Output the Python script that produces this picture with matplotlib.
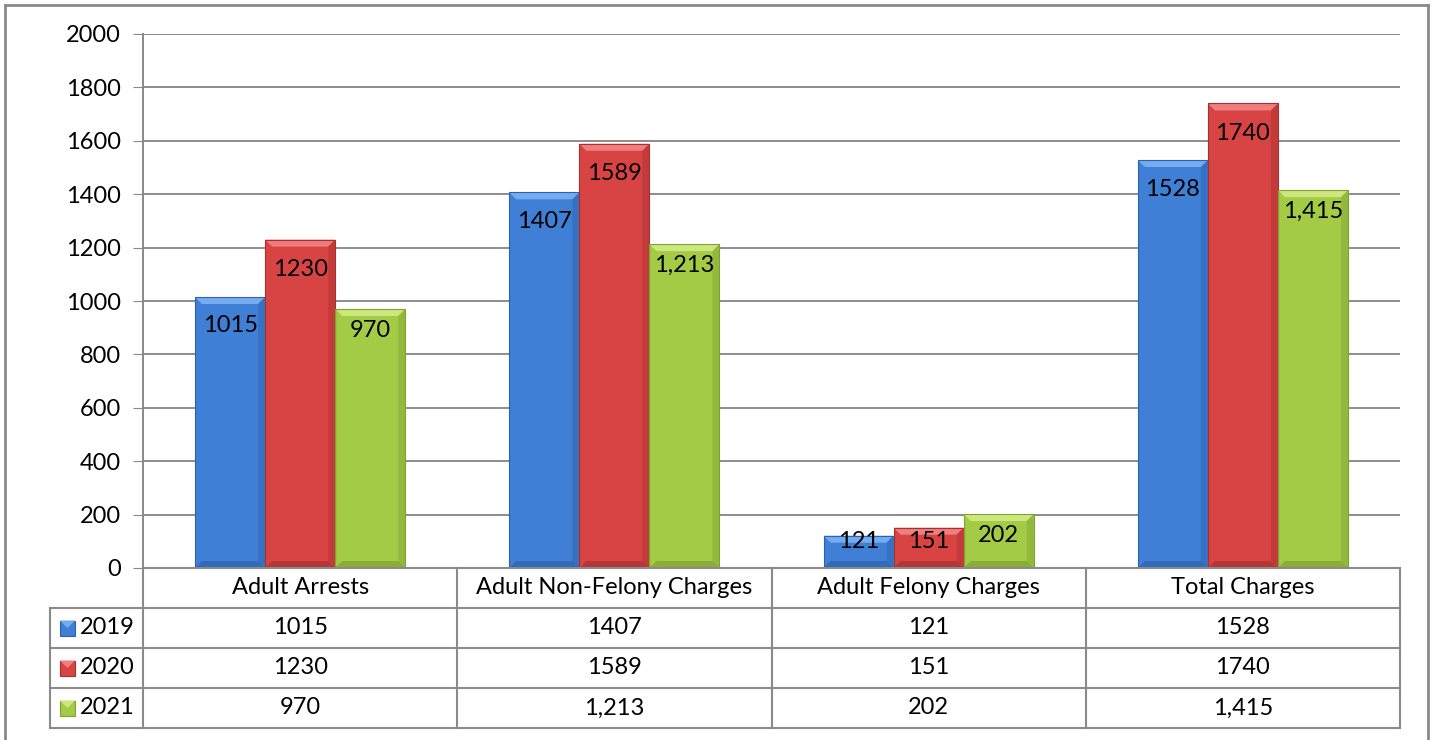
import matplotlib.pyplot as plt
import numpy as np
from matplotlib.patches import Polygon, Rectangle
from matplotlib.lines import Line2D

plt.rcParams['font.family'] = ['Lato', 'DejaVu Sans']

# data
categories = ['Adult Arrests', 'Adult Non-Felony Charges', 'Adult Felony Charges', 'Total Charges']
years = ['2019', '2020', '2021']
values = {
    '2019': [1015, 1407, 121, 1528],
    '2020': [1230, 1589, 151, 1740],
    '2021': [970, 1213, 202, 1415],
}
# labels as printed in the original (2021 uses thousands separators)
labels = {
    '2019': ['1015', '1407', '121', '1528'],
    '2020': ['1230', '1589', '151', '1740'],
    '2021': ['970', '1,213', '202', '1,415'],
}

# main, light (top bevel), dark (side/bottom bevel)
colors = {
    '2019': ('#3f80d6', '#74acef', '#2c62ad'),
    '2020': ('#d84444', '#f07e7e', '#aa3030'),
    '2021': ('#a3cb45', '#cbe77e', '#7fa332'),
}
# how far below the bar top each series' label sits (px)
label_drop = {'2019': 29, '2020': 30, '2021': 21}

FS = 17
W, H = 1433, 740
fig = plt.figure(figsize=(W / 100, H / 100), dpi=100)

def fx(px):
    return px / W

def fy(py):
    return 1 - py / H

ax_l, ax_r, ax_t, ax_b = 143, 1400, 34, 568
ax = fig.add_axes([fx(ax_l), fy(ax_b), fx(ax_r - ax_l), fy(ax_t) - fy(ax_b)])

x = np.arange(len(categories))
width = 0.223
ax.set_xlim(-0.5, len(categories) - 0.5)
ax.set_ylim(0, 2000)

# pixel -> data scale for bevel
px_x = (len(categories)) / (ax_r - ax_l)
px_y = 2000 / (ax_b - ax_t)
bev = 7

for i, yr in enumerate(years):
    main, light, dark = colors[yr]
    rects = ax.bar(x + (i - 1) * width, values[yr], width, color=main, edgecolor=dark,
                   linewidth=0.6, zorder=3)
    for r, lab in zip(rects, labels[yr]):
        x0, y0 = r.get_x(), 0
        x1, y1 = x0 + r.get_width(), r.get_height()
        bx, by = bev * px_x, min(bev * px_y, y1 / 3)
        # top bevel
        ax.add_patch(Polygon([(x0, y1), (x1, y1), (x1 - bx, y1 - by), (x0 + bx, y1 - by)],
                             closed=True, color=light, zorder=4, lw=0))
        # right bevel
        ax.add_patch(Polygon([(x1, y1), (x1 - bx, y1 - by), (x1 - bx, y0 + by), (x1, y0)],
                             closed=True, color=dark, alpha=0.45, zorder=4, lw=0))
        # bottom bevel
        ax.add_patch(Polygon([(x0, y0), (x1, y0), (x1 - bx, y0 + by), (x0 + bx, y0 + by)],
                             closed=True, color=dark, alpha=0.7, zorder=4, lw=0))
        ax.add_patch(Rectangle((x0, y0), x1 - x0, y1, fill=False, edgecolor=dark, lw=0.8, zorder=5))
        h_px = y1 / px_y
        drop = max(6, min(label_drop[yr], h_px - 26))
        ax.annotate(lab, (r.get_x() + r.get_width() / 2, y1), xytext=(0, -drop * 0.72),
                    textcoords='offset points', ha='center', va='center', fontsize=FS,
                    color='black', zorder=6)

ax.set_yticks(np.arange(0, 2001, 200))
ax.tick_params(axis='y', labelsize=FS, length=7, color='#888888', pad=9)
ax.set_xticks([])
ax.grid(axis='y', color='#8c8c8c', linewidth=1.4, zorder=0)
for s in ['top', 'right', 'bottom']:
    ax.spines[s].set_visible(False)
ax.spines['left'].set_color('#888888')
ax.spines['left'].set_linewidth(1.4)

# data table below the axes
grid_c = '#8a8a8a'
col_edges = np.linspace(ax_l, ax_r, len(categories) + 1)
leg_l = 50
row_edges = [568, 608, 648, 688, 728]

def hline(y, x0, x1):
    fig.add_artist(Line2D([fx(x0), fx(x1)], [fy(y), fy(y)], color=grid_c, lw=1.5))

def vline(xp, y0, y1):
    fig.add_artist(Line2D([fx(xp), fx(xp)], [fy(y0), fy(y1)], color=grid_c, lw=1.5))

hline(row_edges[0], ax_l, ax_r)
for yv in row_edges[1:]:
    hline(yv, leg_l, ax_r)
for xp in col_edges:
    vline(xp, row_edges[0], row_edges[-1])
vline(leg_l, row_edges[1], row_edges[-1])

for j, cat in enumerate(categories):
    cx = (col_edges[j] + col_edges[j + 1]) / 2
    fig.text(fx(cx), fy((row_edges[0] + row_edges[1]) / 2), cat, ha='center', va='center',
             fontsize=FS)
    for i, yr in enumerate(years):
        fig.text(fx(cx), fy((row_edges[i + 1] + row_edges[i + 2]) / 2), labels[yr][j],
                 ha='center', va='center', fontsize=FS)

for i, yr in enumerate(years):
    main, light, dark = colors[yr]
    cy = (row_edges[i + 1] + row_edges[i + 2]) / 2
    sq = 15
    fig.add_artist(Rectangle((fx(60), fy(cy + sq / 2)), fx(sq), fy(0) - fy(sq), color=main,
                             ec=dark, lw=0.8))
    fig.add_artist(Polygon([(fx(60), fy(cy - sq / 2)), (fx(60 + sq), fy(cy - sq / 2)),
                            (fx(60 + sq / 2), fy(cy))], closed=True, color=light, lw=0))
    fig.text(fx(80), fy(cy), yr, ha='left', va='center', fontsize=FS)

# outer chart frame
frame_c = '#8a8a8a'
fig.add_artist(Line2D([fx(5), fx(1428)], [fy(5), fy(5)], color=frame_c, lw=2))
fig.add_artist(Line2D([fx(5), fx(5)], [fy(5), fy(740)], color=frame_c, lw=2))
fig.add_artist(Line2D([fx(1428), fx(1428)], [fy(5), fy(740)], color=frame_c, lw=2))

plt.savefig('out.png', dpi=100)
